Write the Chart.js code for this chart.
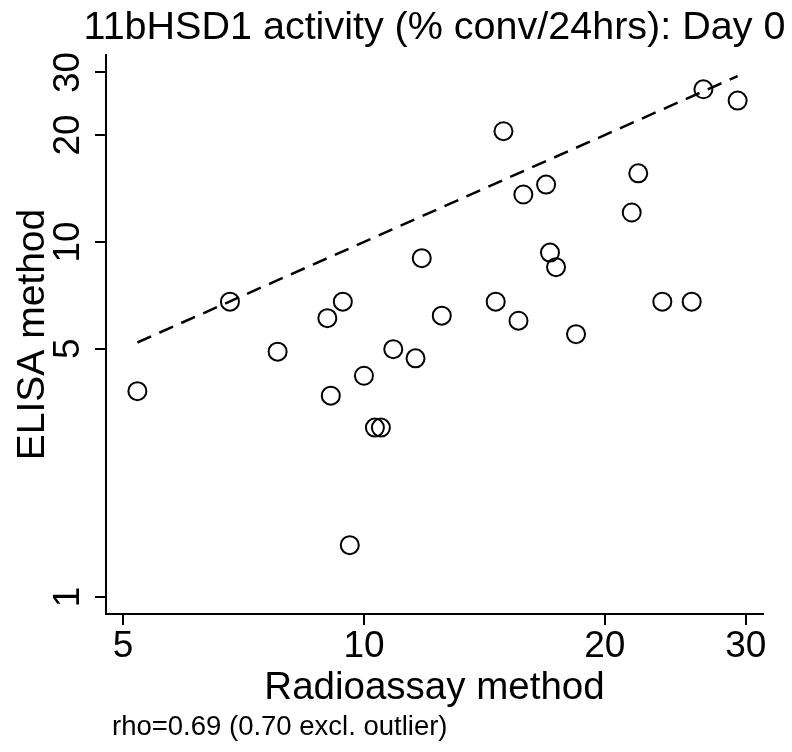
<!DOCTYPE html>
<html lang="en">
<head>
    <meta charset="UTF-8">
    <title>11bHSD1 activity: Day 0</title>
    <script src="https://cdn.jsdelivr.net/npm/chart.js"></script>
    <style>
        body { margin: 0; background: #fff; }
        #wrap { width: 792px; height: 752px; }
    </style>
</head>
<body>
    <div id="wrap">
        <canvas id="scatter"></canvas>
    </div>

    <script>
        // values (% conversion / 24hrs)
        const radioassay = [5.21, 6.80, 7.80, 9.00, 9.41, 9.09, 9.60, 10.0, 10.32, 10.50,
                            10.88, 11.60, 11.81, 12.51, 14.61, 14.94, 15.60, 15.82, 16.89, 17.08,
                            17.38, 18.41, 21.61, 22.02, 23.60, 25.68, 26.56, 29.31];
        const elisa = [3.80, 6.79, 4.91, 6.10, 6.79, 3.69, 1.40, 4.20, 3.00, 3.00,
                       4.99, 4.70, 9.00, 6.20, 6.79, 20.5, 6.00, 13.6, 14.5, 9.33,
                       8.49, 5.50, 12.1, 15.6, 6.79, 6.79, 26.9, 25.0];
        // line of equality, drawn over the radioassay range
        const equalityLine = [5.21, 29.31];

        const xTicks = [5, 10, 20, 30];
        const yTicks = [1, 5, 10, 20, 30];

        const titleText = '11bHSD1 activity (% conv/24hrs): Day 0';
        const noteText = 'rho=0.69 (0.70 excl. outlier)';
        const fam = '"Liberation Sans", Arial, Helvetica, sans-serif';

        let points = radioassay.map((v, i) => ({x: v, y: elisa[i]}));
        let linePts = equalityLine.map(v => ({x: v, y: v}));

        // title, footnote and the rotated y tick labels
        const textPlugin = {
            id: 'texts',
            afterDraw(chart) {
                const ctx = chart.ctx;
                const ys = chart.scales.y;
                const area = chart.chartArea;
                ctx.save();
                ctx.fillStyle = '#000';

                ctx.font = '39.5px ' + fam;
                ctx.textAlign = 'center';
                ctx.textBaseline = 'alphabetic';
                ctx.fillText(titleText, (area.left + area.right) / 2, 39);

                ctx.font = '37px ' + fam;
                yTicks.forEach(v => {
                    let py = ys.getPixelForValue(v);
                    ctx.save();
                    ctx.translate(ys.right - 27, py);
                    ctx.rotate(-Math.PI / 2);
                    ctx.fillText(String(v), 0, 0);
                    ctx.restore();
                });

                ctx.font = '27.5px ' + fam;
                ctx.textAlign = 'left';
                ctx.fillText(noteText, 112, 735);
                ctx.restore();
            }
        };

        new Chart(document.getElementById('scatter'), {
            type: 'scatter',
            data: {
                datasets: [{
                    label: 'Day 0',
                    data: points,
                    pointStyle: 'circle',
                    pointRadius: 9,
                    pointHoverRadius: 9,
                    borderWidth: 2,
                    borderColor: '#000',
                    backgroundColor: 'rgba(0,0,0,0)'
                }, {
                    label: 'equality',
                    data: linePts,
                    showLine: true,
                    pointRadius: 0,
                    borderColor: '#000',
                    borderWidth: 2.5,
                    borderDash: [15, 9]
                }]
            },
            options: {
                responsive: true,
                maintainAspectRatio: false,
                animation: false,
                layout: {
                    padding: {top: 55, right: 29, bottom: 28, left: 0}
                },
                plugins: {
                    legend: {display: false},
                    tooltip: {enabled: false}
                },
                scales: {
                    x: {
                        type: 'logarithmic',
                        min: 4.76,
                        max: 31.53,
                        afterBuildTicks: s => { s.ticks = xTicks.map(v => ({value: v})); },
                        afterFit: s => { s.height = 110; },
                        ticks: {
                            color: '#000',
                            font: {family: fam, size: 37},
                            padding: 0,
                            maxRotation: 0,
                            autoSkip: false,
                            callback: v => String(v)
                        },
                        grid: {
                            drawOnChartArea: false,
                            tickLength: 11,
                            color: '#000',
                            lineWidth: 2
                        },
                        border: {color: '#000', width: 2},
                        title: {
                            display: true,
                            text: 'Radioassay method',
                            color: '#000',
                            font: {family: fam, size: 38.5},
                            padding: {top: 0, bottom: 13}
                        }
                    },
                    y: {
                        type: 'logarithmic',
                        min: 0.896,
                        max: 33.6,
                        afterBuildTicks: s => { s.ticks = yTicks.map(v => ({value: v})); },
                        afterFit: s => { s.width = 106; },
                        ticks: {display: false},
                        grid: {
                            drawOnChartArea: false,
                            tickLength: 11,
                            color: '#000',
                            lineWidth: 2
                        },
                        border: {color: '#000', width: 2},
                        title: {
                            display: true,
                            text: 'ELISA method',
                            color: '#000',
                            font: {family: fam, size: 39},
                            padding: {top: 10, bottom: 0}
                        }
                    }
                }
            },
            plugins: [textPlugin]
        });
    </script>
</body>
</html>
